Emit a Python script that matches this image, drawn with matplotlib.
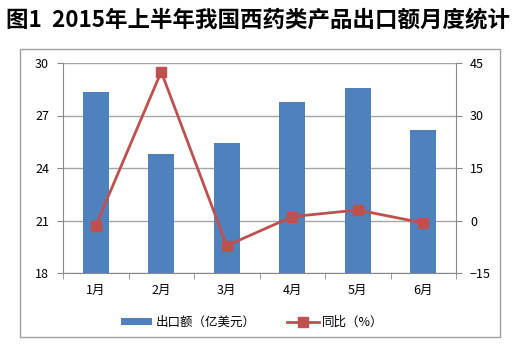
import matplotlib
matplotlib.use('Agg')
import numpy as np
import matplotlib.pyplot as plt
from matplotlib.patches import Rectangle

plt.rcParams['font.family'] = ['Noto Sans CJK SC', 'DejaVu Sans']

# 数据
months = ['1月', '2月', '3月', '4月', '5月', '6月']
export_vals = [28.35, 24.8, 25.45, 27.8, 28.55, 26.15]   # 出口额(亿美元)
yoy_vals = [-1.5, 42.5, -7.2, 1.1, 3.0, -0.7]             # 同比(%)
left_ticks = [18, 21, 24, 27, 30]
right_ticks = [-15, 0, 15, 30, 45]

fig = plt.figure(figsize=(5.26, 3.53), dpi=100)
fig.patch.set_facecolor('white')

# 外框
fig.patches.append(Rectangle((20 / 526, 1 - 337 / 353), 480 / 526, 288 / 353,
                             transform=fig.transFigure, fill=False,
                             edgecolor='#a0a0a0', linewidth=1.0))

fig.text(0.012, 1 - 20 / 353, '图1  2015年上半年我国西药类产品出口额月度统计',
         fontsize=16.2, fontweight='bold', ha='left', va='center')

ax = fig.add_axes([63 / 526, 1 - 273 / 353, 393 / 526, 210 / 353])
x = np.arange(len(months))
ax.bar(x, export_vals, width=0.4, color='#4f81bd', zorder=2,
       label='出口额（亿美元）')
ax.set_ylim(18, 30)
ax.set_xlim(-0.5, 5.5)
ax.set_yticks(left_ticks)
ax.set_xticks(x)
ax.set_xticklabels(months, fontsize=9)
ax.set_xticks(np.arange(-0.5, 6, 1), minor=True)
ax.tick_params(axis='x', which='major', length=0, pad=8)
ax.tick_params(axis='x', which='minor', length=4, color='#888888')
ax.tick_params(axis='y', length=4, color='#888888', labelsize=9, pad=6)
ax.grid(axis='y', color='#a6a6a6', linewidth=1, zorder=0)
for s in ['top', 'right']:
    ax.spines[s].set_visible(False)
for s in ['left', 'bottom']:
    ax.spines[s].set_color('#888888')

ax2 = ax.twinx()
ax2.plot(x, yoy_vals, color='#c0504d', linewidth=2, marker='s',
         markersize=6.5, markeredgecolor='#c0504d', label='同比（%）', zorder=3)
ax2.set_ylim(-15, 45)
ax2.set_yticks(right_ticks)
ax2.tick_params(axis='y', length=4, color='#888888', labelsize=9, pad=6)
for s in ['top', 'left', 'bottom']:
    ax2.spines[s].set_visible(False)
ax2.spines['right'].set_color('#888888')

h1, l1 = ax.get_legend_handles_labels()
h2, l2 = ax2.get_legend_handles_labels()
fig.legend(h1 + h2, l1 + l2, loc='center', bbox_to_anchor=(0.48, 1 - 322 / 353),
           ncol=2, frameon=False, fontsize=9, handlelength=2.5, handleheight=0.5,
           columnspacing=2.5, handletextpad=0.3)

fig.savefig('out.png', dpi=100)
